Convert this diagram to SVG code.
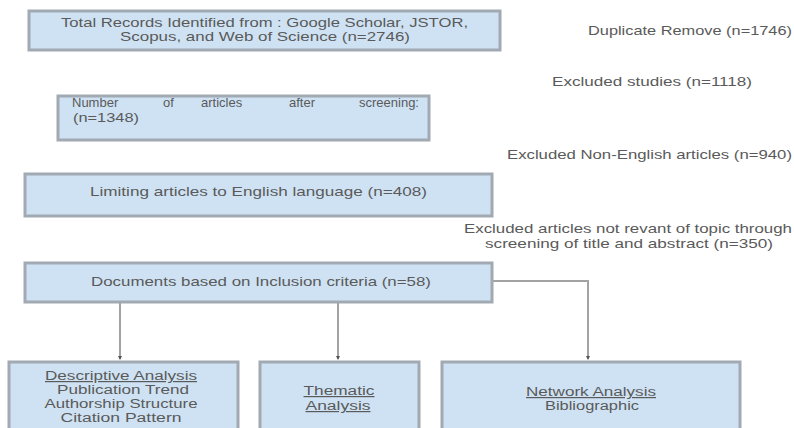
<svg xmlns="http://www.w3.org/2000/svg" width="794" height="428" viewBox="0 0 794 428">
<defs>
<style>
.box{fill:#cfe2f3;stroke:#a1aab3;stroke-width:3}
.t{font-family:"Liberation Sans",Arial,sans-serif;font-size:13px;fill:#5a5a5a}
.s{font-size:12px}
.m{text-anchor:middle}
.u{text-decoration:underline}
.c{fill:none;stroke:#a3a3a3;stroke-width:2}
</style>
<marker id="ah" markerWidth="4" markerHeight="4" refX="3" refY="2" orient="auto" markerUnits="userSpaceOnUse">
<path d="M0,0 L4,2 L0,4 Z" fill="#555"/>
</marker>
</defs>
<rect width="794" height="428" fill="#fff"/>

<g id="connectors">
<line class="c" x1="120" y1="303" x2="120" y2="359" marker-end="url(#ah)"/>
<line class="c" x1="338" y1="303" x2="338" y2="359" marker-end="url(#ah)"/>
<path class="c" d="M492,281 H588 V359" marker-end="url(#ah)"/>
</g>

<g id="n-total">
<rect class="box" x="29" y="11" width="471" height="39"/>
<text class="t m" x="264.5" y="27" textLength="407" lengthAdjust="spacingAndGlyphs">Total Records Identified from : Google Scholar, JSTOR,</text>
<text class="t m" x="265" y="41" textLength="290" lengthAdjust="spacingAndGlyphs">Scopus, and Web of Science (n=2746)</text>
</g>

<g id="n-screening">
<rect class="box" x="58" y="96" width="371" height="44"/>
<text class="t" y="107"><tspan x="72">Number</tspan><tspan x="163">of</tspan><tspan x="201">articles</tspan><tspan x="289">after</tspan><tspan x="359">screening:</tspan></text>
<text class="t" x="73" y="122" textLength="66" lengthAdjust="spacingAndGlyphs">(n=1348)</text>
</g>

<g id="n-english">
<rect class="box" x="25" y="174" width="467" height="42"/>
<text class="t m" x="258.5" y="196" textLength="337" lengthAdjust="spacingAndGlyphs">Limiting articles to English language (n=408)</text>
</g>

<g id="n-inclusion">
<rect class="box" x="25" y="263" width="467" height="39"/>
<text class="t m" x="261" y="286" textLength="340" lengthAdjust="spacingAndGlyphs">Documents based on Inclusion criteria (n=58)</text>
</g>

<g id="n-duplicate">
<text class="t" x="588" y="35" textLength="204" lengthAdjust="spacingAndGlyphs">Duplicate Remove (n=1746)</text>
</g>
<g id="n-excluded">
<text class="t" x="552" y="86" textLength="200" lengthAdjust="spacingAndGlyphs">Excluded studies (n=1118)</text>
</g>
<g id="n-nonenglish">
<text class="t" x="507" y="159" textLength="285" lengthAdjust="spacingAndGlyphs">Excluded Non-English articles (n=940)</text>
</g>
<g id="n-notrelevant">
<text class="t" x="464" y="233" textLength="328" lengthAdjust="spacingAndGlyphs">Excluded articles not revant of topic through</text>
<text class="t m" x="629" y="248" textLength="288" lengthAdjust="spacingAndGlyphs">screening of title and abstract (n=350)</text>
</g>

<g id="n-descriptive">
<rect class="box" x="9" y="362" width="229" height="70"/>
<text class="t s m u" x="121" y="380" textLength="152" lengthAdjust="spacingAndGlyphs">Descriptive Analysis</text>
<text class="t s m" x="123" y="394" textLength="132" lengthAdjust="spacingAndGlyphs">Publication Trend</text>
<text class="t s m" x="121" y="408" textLength="153" lengthAdjust="spacingAndGlyphs">Authorship Structure</text>
<text class="t s m" x="121" y="422" textLength="121" lengthAdjust="spacingAndGlyphs">Citation Pattern</text>
</g>

<g id="n-thematic">
<rect class="box" x="260" y="362" width="159" height="70"/>
<text class="t s m u" x="339" y="395" textLength="71" lengthAdjust="spacingAndGlyphs">Thematic</text>
<text class="t s m u" x="338" y="410" textLength="65" lengthAdjust="spacingAndGlyphs">Analysis</text>
</g>

<g id="n-network">
<rect class="box" x="442" y="362" width="298" height="70"/>
<text class="t s m u" x="591" y="396" textLength="130" lengthAdjust="spacingAndGlyphs">Network Analysis</text>
<text class="t s m" x="592" y="410" textLength="94" lengthAdjust="spacingAndGlyphs">Bibliographic</text>
</g>
</svg>
